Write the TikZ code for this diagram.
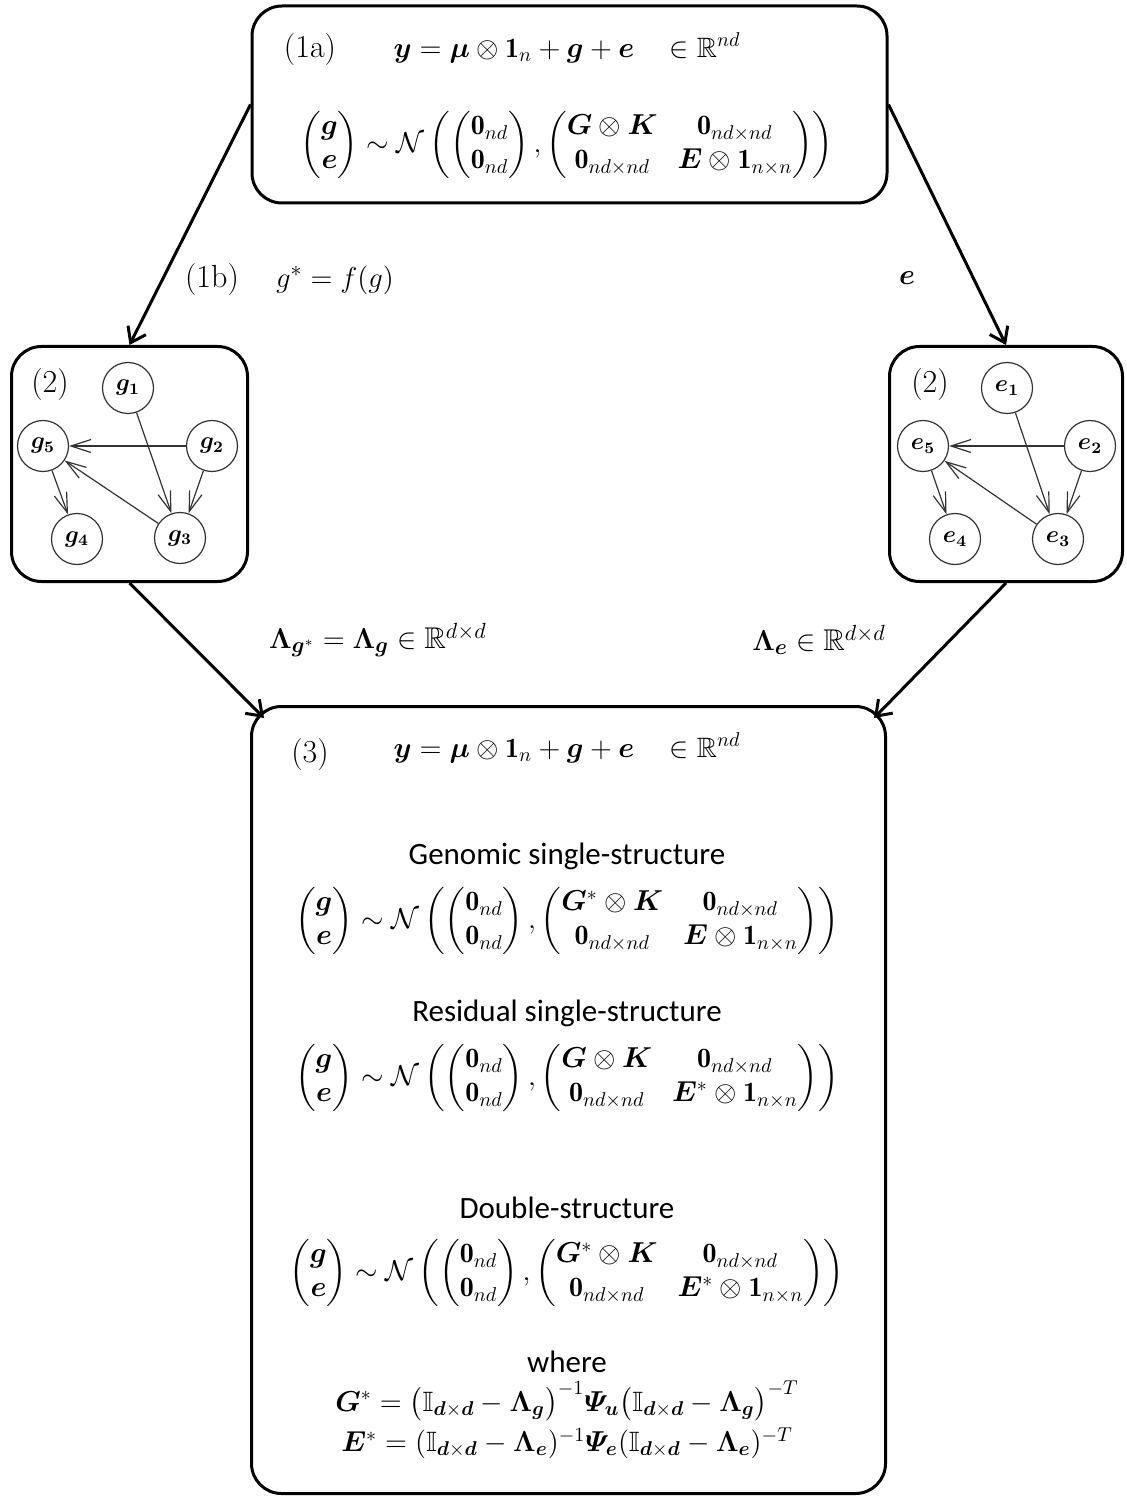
\documentclass[tikz,border=0pt]{standalone}
\usepackage{amsmath,amssymb,bm}
\usepackage{fontspec}
\newfontfamily\labelfont{Carlito}
\usetikzlibrary{arrows.meta,calc}

% Shorthands for the model formulas
\newcommand{\bg}{\bm{g}}
\newcommand{\be}{\bm{e}}
\newcommand{\zero}{\mathbf{0}}
\newcommand{\one}{\mathbf{1}}
\newcommand{\normalmodel}[2]{%
  \begin{pmatrix}\bg\\ \be\end{pmatrix}\sim\mathcal{N}\left(
  \begin{pmatrix}\zero_{nd}\\ \zero_{nd}\end{pmatrix},
  \begin{pmatrix}#1\otimes\bm{K} & \zero_{nd\times nd}\\
  \zero_{nd\times nd} & #2\otimes\one_{n\times n}\end{pmatrix}\right)}
\newcommand{\meanmodel}{\bm{y}=\bm{\mu}\otimes\one_n+\bg+\be\ \ \ \in\mathbb{R}^{nd}}

\begin{document}
\begin{tikzpicture}[x=0.5pt,y=-0.5pt,
  font=\fontsize{14}{17}\selectfont,
  panel/.style={draw, line width=1.5pt, rounded corners=15pt, inner sep=0pt},
  flow/.style={line width=1.5pt, -{Straight Barb[length=7pt,width=10pt]}},
  var/.style={circle, draw=black!80, line width=0.6pt, minimum size=25.5pt,
    inner sep=0pt, font=\fontsize{12}{14}\selectfont},
  dep/.style={draw=black!80, line width=0.6pt,
    -{Straight Barb[length=10pt,width=6.5pt]}},
  txt/.style={inner sep=0pt},
  tag/.style={inner sep=0pt, font=\fontsize{16}{19}\selectfont},
  biglabel/.style={inner sep=0pt, font=\fontsize{15}{18}\selectfont},
  heading/.style={inner sep=0pt, font=\labelfont\fontsize{15.5}{18}\selectfont}]

\useasboundingbox (0,0) rectangle (1126,1497);

% ---- panels ----
\node[panel, minimum width=317.5pt, minimum height=98.5pt] (top) at (569.5,104.5) {};
\node[panel, minimum width=118pt, minimum height=117.5pt] (gbox) at (129.5,464) {};
\node[panel, minimum width=116.5pt, minimum height=117.5pt] (ebox) at (1006,464) {};
\node[panel, minimum width=317pt, minimum height=393.5pt] (bot) at (568.5,1100) {};

% ---- panel (1a) ----
\node[tag] (t1a) at (310,50) {(1a)};
\node[txt] (teq) at (567,48) {$\meanmodel$};
\node[txt] (tnorm) at (567,145) {$\normalmodel{\bm{G}}{\bm{E}}$};

% ---- labels between panels ----
\node[tag] (l1b) at (212,280) {(1b)};
\node[biglabel] (lf) at (335,280) {$g^{*}=f(g)$};
\node[biglabel] (le) at (907,278) {$\be$};
\node[biglabel] (llg) at (378,640) {$\bm{\Lambda}_{\bg^{*}}=\bm{\Lambda}_{\bg}\in\mathbb{R}^{d\times d}$};
\node[biglabel] (lle) at (819,640) {$\bm{\Lambda}_{\be}\in\mathbb{R}^{d\times d}$};

% ---- panel (2), genomic graph ----
\node[tag] (g2lab) at (50,385) {(2)};
\node[var] (g1) at (128,388) {$\bm{g_1}$};
\node[var] (g2) at (212,446) {$\bm{g_2}$};
\node[var] (g5) at (43,446) {$\bm{g_5}$};
\node[var] (g4) at (77,539) {$\bm{g_4}$};
\node[var] (g3) at (180,538) {$\bm{g_3}$};
\draw[dep] (g1) -- (g3);
\draw[dep] (g2) -- (g5);
\draw[dep] (g2) -- (g3);
\draw[dep] (g5) -- (g4);
\draw[dep] (g3) -- (g5);

% ---- panel (2), residual graph ----
\node[tag] (e2lab) at (930,385) {(2)};
\node[var] (e1) at (1007,388) {$\bm{e_1}$};
\node[var] (e2) at (1090,446) {$\bm{e_2}$};
\node[var] (e5) at (923,446) {$\bm{e_5}$};
\node[var] (e4) at (955,539) {$\bm{e_4}$};
\node[var] (e3) at (1058,539) {$\bm{e_3}$};
\draw[dep] (e1) -- (e3);
\draw[dep] (e2) -- (e5);
\draw[dep] (e2) -- (e3);
\draw[dep] (e5) -- (e4);
\draw[dep] (e3) -- (e5);

% ---- panel (3) ----
\node[tag] (t3) at (310,755) {(3)};
\node[txt] (beq) at (567,748) {$\meanmodel$};
\node[heading] (hg) at (567,856) {Genomic single-structure};
\node[txt] (fg) at (567,921) {$\normalmodel{\bm{G}^{*}}{\bm{E}}$};
\node[heading] (hr) at (567,1013) {Residual single-structure};
\node[txt] (fr) at (567,1078) {$\normalmodel{\bm{G}}{\bm{E}^{*}}$};
\node[heading] (hd) at (567,1208) {Double-structure};
\node[txt] (fd) at (567,1273) {$\normalmodel{\bm{G}^{*}}{\bm{E}^{*}}$};
\node[heading] (hw) at (567,1362) {where};
\node[txt] (wg) at (567,1401) {$\bm{G}^{*}=\bigl(\mathbb{I}_{\bm{d}\times\bm{d}}-\bm{\Lambda}_{\bg}\bigr)^{-1}\bm{\varPsi}_{\bm{u}}\bigl(\mathbb{I}_{\bm{d}\times\bm{d}}-\bm{\Lambda}_{\bg}\bigr)^{-T}$};
\node[txt] (we) at (567,1443) {$\bm{E}^{*}=(\mathbb{I}_{\bm{d}\times\bm{d}}-\bm{\Lambda}_{\be})^{-1}\bm{\varPsi}_{\be}(\mathbb{I}_{\bm{d}\times\bm{d}}-\bm{\Lambda}_{\be})^{-T}$};

% ---- connectors between panels ----
\draw[flow] (top.west) -- (gbox.north);
\draw[flow] (top.east) -- (ebox.north);
\draw[flow] (gbox.south) -- ($(bot.north west)+(14,13)$);
\draw[flow] (ebox.south) -- ($(bot.north east)+(-13,13)$);
\end{tikzpicture}
\end{document}
